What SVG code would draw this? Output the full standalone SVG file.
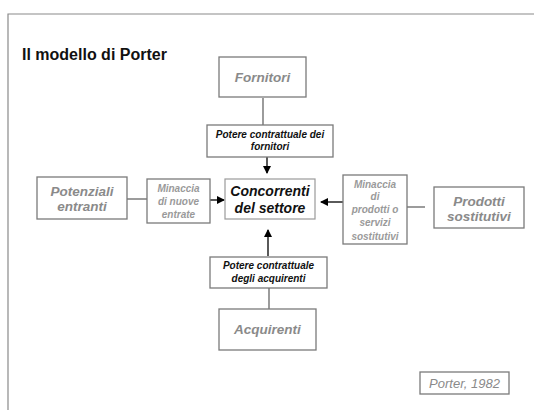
<svg xmlns="http://www.w3.org/2000/svg" width="534" height="410" viewBox="0 0 534 410">
<defs>
<marker id="ah" markerWidth="8" markerHeight="8" refX="7" refY="4" orient="auto" markerUnits="userSpaceOnUse">
<path d="M0,0 L8,4 L0,8 Z" fill="#000"/>
</marker>
<style>
.box{fill:#fff;stroke:#7a7a7a;stroke-width:1.3}
.lbox{fill:#fff;stroke:#9a9a9a;stroke-width:1.2}
.t{font-family:"Liberation Sans",Arial,sans-serif;text-anchor:middle}
.big{font-size:13.5px;font-weight:bold;font-style:italic;fill:#8a8a8a}
.mid{font-size:10px;font-weight:bold;font-style:italic;fill:#9a9a9a}
.sm{font-size:10px;font-weight:bold;font-style:italic;fill:#111}
.line{stroke:#666;stroke-width:1.3;fill:none}
.arr{stroke:#000;stroke-width:1.3;fill:none;marker-end:url(#ah)}
</style>
</defs>
<rect width="534" height="410" fill="#fff"/>
<path d="M8,410 V14 H534" fill="none" stroke="#8a8a8a" stroke-width="1.2"/>
<text x="22" y="60" font-family="Liberation Sans,Arial,sans-serif" font-size="16" font-weight="bold" fill="#111">Il modello di Porter</text>

<g id="connectors">
<line class="line" x1="263" y1="98" x2="263" y2="125"/>
<line class="arr" x1="267" y1="157" x2="267" y2="173"/>
<line class="line" x1="127" y1="199" x2="147" y2="199"/>
<line class="arr" x1="204" y1="200" x2="224" y2="200"/>
<line class="line" x1="407" y1="207" x2="425" y2="207"/>
<line class="arr" x1="343" y1="202" x2="321" y2="202"/>
<line class="arr" x1="268" y1="256" x2="268" y2="230"/>
<line class="line" x1="269" y1="288" x2="269" y2="309"/>
</g>

<g id="fornitori">
<rect class="box" x="219" y="57" width="87" height="40"/>
<text class="t big" x="262.5" y="82">Fornitori</text>
</g>
<g id="potere-fornitori">
<rect class="box" x="207" y="125" width="126" height="32"/>
<text class="t sm" x="270" y="138">Potere contrattuale dei</text>
<text class="t sm" x="270" y="150">fornitori</text>
</g>
<g id="concorrenti">
<rect class="lbox" x="225" y="179" width="90" height="40"/>
<text class="t" x="270" y="196" font-size="14" font-weight="bold" font-style="italic" fill="#111">Concorrenti</text>
<text class="t" x="270" y="213" font-size="14" font-weight="bold" font-style="italic" fill="#111">del settore</text>
</g>
<g id="potenziali">
<rect class="box" x="37" y="177" width="90" height="42"/>
<text class="t big" x="82" y="196">Potenziali</text>
<text class="t big" x="82" y="211">entranti</text>
</g>
<g id="minaccia-entrate">
<rect class="box" x="147" y="179" width="63" height="44"/>
<text class="t mid" x="178.5" y="192">Minaccia</text>
<text class="t mid" x="178.5" y="205">di nuove</text>
<text class="t mid" x="178.5" y="218">entrate</text>
</g>
<g id="minaccia-sostitutivi">
<rect class="box" x="343" y="175" width="64" height="69"/>
<text class="t mid" x="375" y="188">Minaccia</text>
<text class="t mid" x="375" y="200">di</text>
<text class="t mid" x="375" y="213">prodotti o</text>
<text class="t mid" x="375" y="226">servizi</text>
<text class="t mid" x="375" y="240">sostitutivi</text>
</g>
<g id="prodotti">
<rect class="box" x="434" y="187" width="90" height="41"/>
<text class="t big" x="479" y="206">Prodotti</text>
<text class="t big" x="479" y="221">sostitutivi</text>
</g>
<g id="potere-acquirenti">
<rect class="box" x="210" y="257" width="117" height="31"/>
<text class="t sm" x="268.5" y="269">Potere contrattuale</text>
<text class="t sm" x="268.5" y="282">degli acquirenti</text>
</g>
<g id="acquirenti">
<rect class="box" x="219" y="309" width="97" height="41"/>
<text class="t big" x="267.5" y="334">Acquirenti</text>
</g>
<g id="fonte">
<rect class="box" x="420" y="372" width="89" height="22"/>
<text class="t" x="464.5" y="388" font-size="13" font-style="italic" fill="#8a8a8a">Porter, 1982</text>
</g>
</svg>
